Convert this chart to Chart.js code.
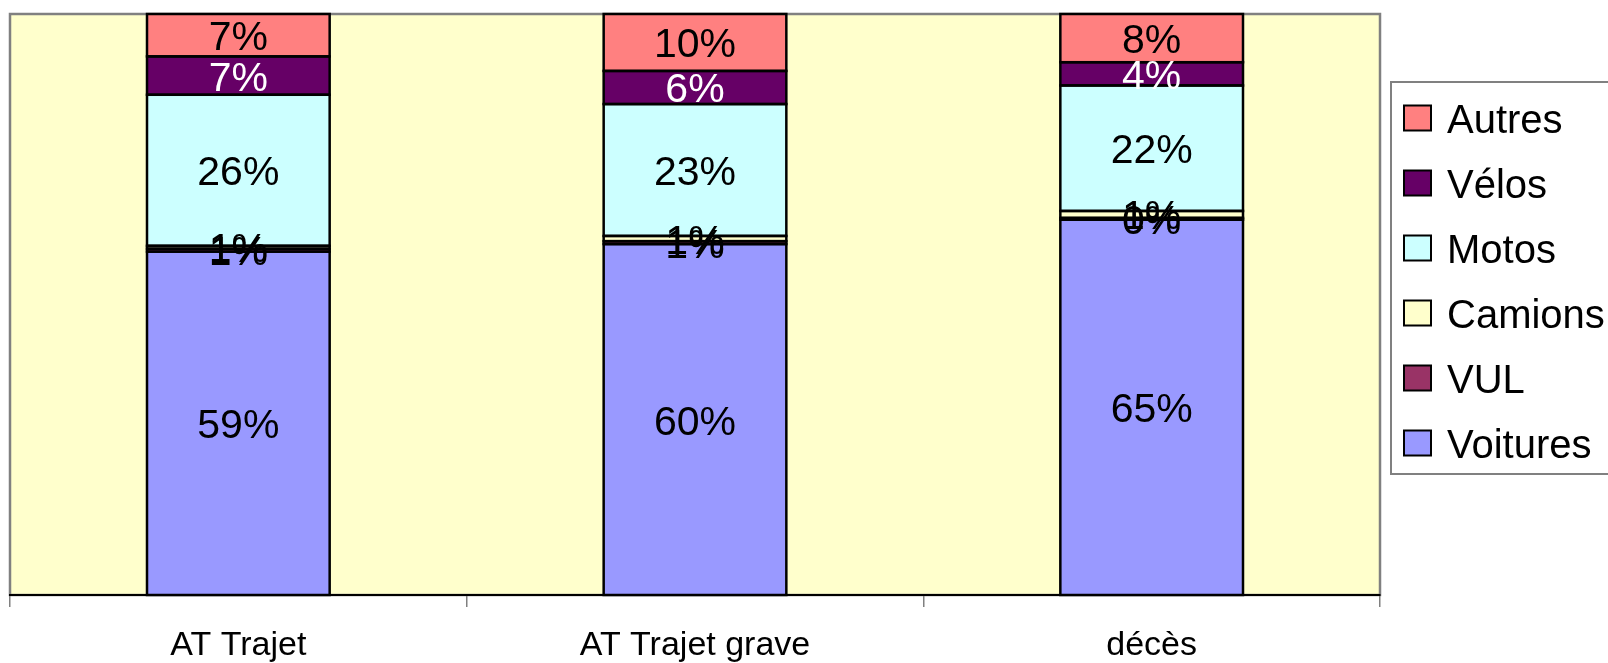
<!DOCTYPE html>
<html>
<head>
<meta charset="utf-8">
<script src="https://cdn.jsdelivr.net/npm/chart.js@4/dist/chart.umd.min.js"></script>
<style>
  html, body { margin: 0; padding: 0; background: #ffffff; }
  #wrap { width: 1608px; height: 663px; position: relative; }
</style>
</head>
<body>
<div id="wrap"><canvas id="c" width="1608" height="663"></canvas></div>
<script>
// ---- data (percent of each column) ----
const categories = ['AT Trajet', 'AT Trajet grave', 'décès'];
const seriesNames = ['Voitures', 'VUL', 'Camions', 'Motos', 'Vélos', 'Autres'];
const voitures = [59.1, 60.4, 64.6];
const vul      = [0.5, 0.5, 0.3];
const camions  = [0.5, 0.9, 1.2];
const motos    = [26.0, 22.7, 21.6];
const velos    = [6.6, 5.7, 4.0];
const autres   = [7.3, 9.8, 8.3];
const seriesValues = [voitures, vul, camions, motos, velos, autres];

// ---- styles ----
const seriesColors = ['#9999FF', '#993366', '#FFFFCC', '#CCFFFF', '#660066', '#FF8080'];
const labelColors  = ['#000000', '#000000', '#000000', '#000000', '#FFFFFF', '#000000'];
const FONT = '"Liberation Sans", Arial, Helvetica, sans-serif';

const plotBg = {
  id: 'plotBg',
  beforeDraw(chart) {
    const { ctx, chartArea: a } = chart;
    ctx.save();
    ctx.fillStyle = '#FFFFCC';
    ctx.fillRect(a.left, a.top, a.right - a.left, a.bottom - a.top);
    ctx.strokeStyle = '#808080';
    ctx.lineWidth = 2.5;
    ctx.strokeRect(a.left, a.top, a.right - a.left, a.bottom - a.top);
    ctx.restore();
  }
};

const barOutline = {
  id: 'barOutline',
  afterDatasetsDraw(chart) {
    const ctx = chart.ctx;
    ctx.save();
    ctx.strokeStyle = '#000000';
    ctx.lineWidth = 2.5;
    chart.data.datasets.forEach((ds, i) => {
      chart.getDatasetMeta(i).data.forEach(el => {
        const p = el.getProps(['x', 'y', 'base', 'width'], true);
        ctx.strokeRect(p.x - p.width / 2, p.y, p.width, p.base - p.y);
      });
    });
    // value labels
    ctx.font = '41px ' + FONT;
    ctx.textAlign = 'center';
    ctx.textBaseline = 'alphabetic';
    chart.data.datasets.forEach((ds, i) => {
      chart.getDatasetMeta(i).data.forEach((el, j) => {
        const p = el.getProps(['x', 'y', 'base'], true);
        ctx.fillStyle = labelColors[i];
        const v = Math.round(ds.data[j]);
        ctx.fillText(v + '%', p.x, (p.y + p.base) / 2 + 15);
      });
    });
    ctx.restore();
  }
};

const sideLegend = {
  id: 'sideLegend',
  afterDraw(chart) {
    const ctx = chart.ctx;
    ctx.save();
    ctx.fillStyle = '#FFFFFF';
    ctx.fillRect(1391, 82, 240, 392);
    ctx.strokeStyle = '#808080';
    ctx.lineWidth = 2;
    ctx.strokeRect(1391, 82, 240, 392);
    ctx.font = '40px ' + FONT;
    ctx.textAlign = 'left';
    ctx.textBaseline = 'alphabetic';
    const n = chart.data.datasets.length;
    for (let k = 0; k < n; k++) {
      const i = n - 1 - k;
      const ds = chart.data.datasets[i];
      const cy = 118 + k * 65;
      ctx.fillStyle = ds.backgroundColor;
      ctx.fillRect(1404, cy - 12.5, 27, 25);
      ctx.strokeStyle = '#000000';
      ctx.lineWidth = 2;
      ctx.strokeRect(1404, cy - 12.5, 27, 25);
      ctx.fillStyle = '#000000';
      ctx.fillText(ds.label, 1447, cy + 14.5);
    }
    ctx.restore();
  }
};

new Chart(document.getElementById('c'), {
  type: 'bar',
  data: {
    labels: categories,
    datasets: seriesNames.map((name, i) => ({
      label: name,
      data: seriesValues[i],
      backgroundColor: seriesColors[i],
      borderWidth: 0,
      barPercentage: 0.8,
      categoryPercentage: 0.5
    }))
  },
  options: {
    responsive: false,
    animation: false,
    devicePixelRatio: 1,
    layout: { padding: { left: 10, top: 14, right: 228, bottom: 0 } },
    plugins: { legend: { display: false }, tooltip: { enabled: false } },
    scales: {
      x: {
        stacked: true,
        offset: true,
        afterFit(scale) { scale.height = 68; },
        grid: { offset: true, drawOnChartArea: false, drawTicks: true, tickLength: 12, color: '#808080', lineWidth: 1.5 },
        border: { display: true, color: '#000000', width: 2 },
        ticks: { color: '#000000', font: { size: 34, family: FONT }, padding: 18, maxRotation: 0 }
      },
      y: { stacked: true, min: 0, max: 100, display: false }
    }
  },
  plugins: [plotBg, barOutline, sideLegend]
});
</script>
</body>
</html>
